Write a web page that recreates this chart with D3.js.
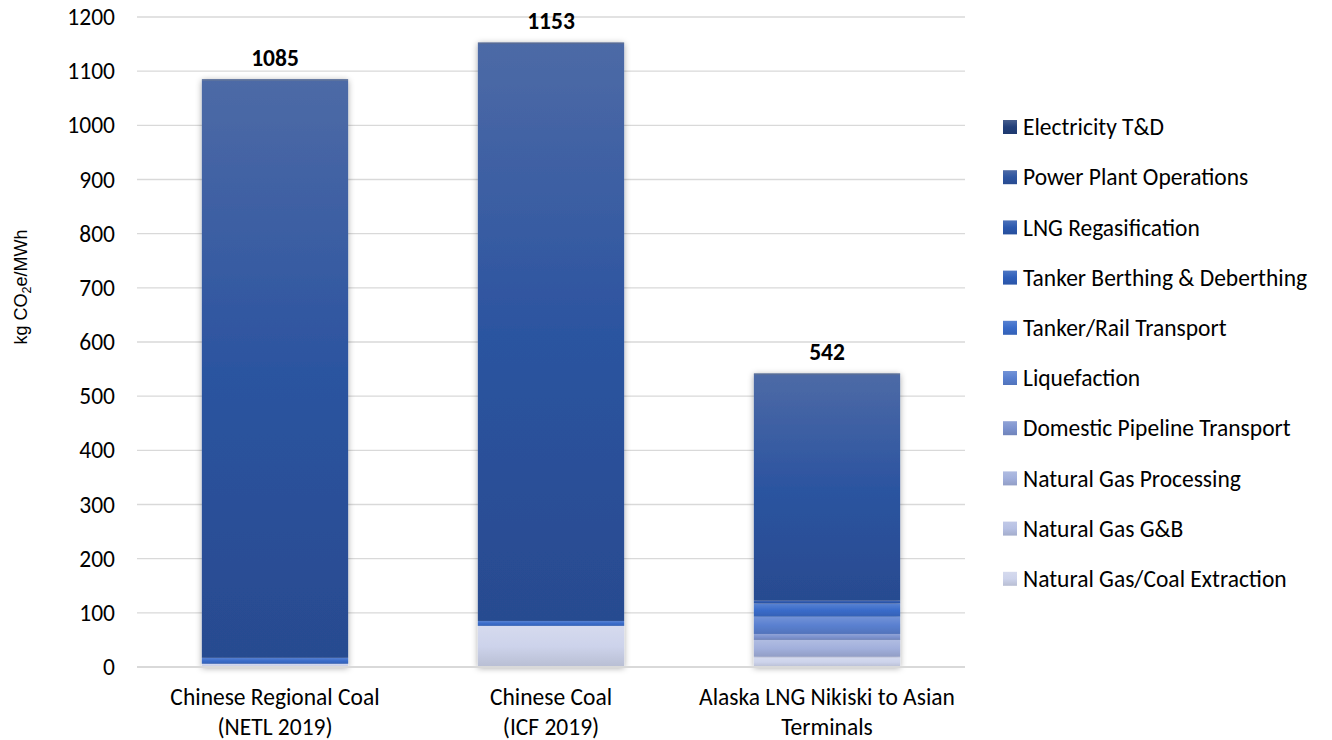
<!DOCTYPE html>
<html>
<head>
<meta charset="utf-8">
<script src="https://cdn.jsdelivr.net/npm/d3@7"></script>
<style>
  html, body { margin: 0; padding: 0; background: #fff; }
  svg { display: block; }
</style>
</head>
<body>
<svg id="chart" width="1332" height="740"></svg>
<script>
// ---------- DATA ----------
const categories = ["Chinese Regional Coal (NETL 2019)", "Chinese Coal (ICF 2019)", "Alaska LNG Nikiski to Asian Terminals"];
const categoryLines = [["Chinese Regional Coal", "(NETL 2019)"], ["Chinese Coal", "(ICF 2019)"], ["Alaska LNG Nikiski to Asian", "Terminals"]];
// stack order: bottom to top
const seriesNames = [
  "Natural Gas/Coal Extraction",
  "Natural Gas G&B",
  "Natural Gas Processing",
  "Domestic Pipeline Transport",
  "Liquefaction",
  "Tanker/Rail Transport",
  "Tanker Berthing & Deberthing",
  "LNG Regasification",
  "Power Plant Operations",
  "Electricity T&D"
];
const extraction      = [6, 76, 18];
const gasGB           = [0, 0, 1];
const gasProcessing   = [0, 0, 31];
const pipeline        = [0, 0, 11];
const liquefaction    = [0, 0, 32];
const tankerRail      = [11, 9, 24];
const berthing        = [0, 0, 0.5];
const regasification  = [0, 0, 5];
const powerPlant      = [1066, 1066, 417.5];
const electricityTD   = [2, 2, 2];
const seriesValues = [extraction, gasGB, gasProcessing, pipeline, liquefaction, tankerRail, berthing, regasification, powerPlant, electricityTD];
const yTicks = [0, 100, 200, 300, 400, 500, 600, 700, 800, 900, 1000, 1100, 1200];
const seriesColors = ["#cdd3eb", "#b6c0e3", "#a2b0dc", "#7d93cf", "#5a80d0", "#3a6cca", "#2f5fba", "#2b58ae", "#2c54a0", "#213f7a"];

// ---------- LAYOUT ----------
const plot = { left: 137, right: 965, top: 17, bottom: 667 };
const FONT = "Carlito, Calibri, Lato, sans-serif";
const FS = 23.5;

const svg = d3.select("#chart");
const defs = svg.append("defs");

// gradients
seriesColors.forEach((c, i) => {
  const base = d3.rgb(c);
  const top = d3.interpolateRgb(c, "#8a94b0")(0.35);
  const bot = base.darker(0.3).formatHex();
  const g = defs.append("linearGradient").attr("id", "grad" + i)
    .attr("x1", 0).attr("y1", 0).attr("x2", 0).attr("y2", 1);
  g.append("stop").attr("offset", "0%").attr("stop-color", i >= 8 ? top : d3.interpolateRgb(c, "#ffffff")(0.15));
  g.append("stop").attr("offset", "50%").attr("stop-color", c);
  g.append("stop").attr("offset", "100%").attr("stop-color", bot);
});

const shadow = defs.append("filter").attr("id", "shadow")
  .attr("x", "-20%").attr("y", "-5%").attr("width", "140%").attr("height", "110%");
shadow.append("feDropShadow").attr("dx", 0).attr("dy", 1).attr("stdDeviation", 3)
  .attr("flood-color", "#000").attr("flood-opacity", 0.35);

const x = d3.scaleBand().domain(categories).range([plot.left, plot.right])
  .paddingInner(0.47).paddingOuter(0.235);
const y = d3.scaleLinear().domain([0, 1200]).range([plot.bottom, plot.top]);

// gridlines
svg.append("g").selectAll("line").data(yTicks.filter(t => t > 0)).join("line")
  .attr("x1", plot.left).attr("x2", plot.right)
  .attr("y1", d => y(d)).attr("y2", d => y(d))
  .attr("stroke", "#d9d9d9").attr("stroke-width", 1.3);

// stacked data
const table = categories.map((c, ci) => {
  const o = { category: c };
  seriesNames.forEach((s, si) => o[s] = seriesValues[si][ci]);
  return o;
});
const stack = d3.stack().keys(seriesNames)(table);

// bars
const barGroups = svg.append("g").selectAll("g.bar").data(categories).join("g")
  .attr("class", "bar").attr("filter", "url(#shadow)");
barGroups.each(function(cat, ci) {
  const g = d3.select(this);
  stack.forEach((layer, si) => {
    const d = layer[ci];
    if (d[1] - d[0] <= 0) return;
    g.append("rect")
      .attr("x", x(cat)).attr("width", x.bandwidth())
      .attr("y", y(d[1])).attr("height", y(d[0]) - y(d[1]))
      .attr("fill", `url(#grad${si})`);
  });
});

// baseline
svg.append("line").attr("x1", plot.left).attr("x2", plot.right)
  .attr("y1", y(0)).attr("y2", y(0)).attr("stroke", "#d9d9d9").attr("stroke-width", 2);

// y axis labels
const yAxis = d3.axisLeft(y).tickValues(yTicks).tickFormat(d3.format("d")).tickSize(0).tickPadding(0);
const yg = svg.append("g").attr("transform", `translate(${plot.left - 22},0)`).call(yAxis);
yg.select(".domain").remove();
yg.selectAll("text").attr("font-family", FONT).attr("font-size", FS).attr("fill", "#000");

// y title
svg.append("text")
  .attr("transform", `translate(27, 287) rotate(-90)`)
  .attr("text-anchor", "middle")
  .attr("font-family", "Liberation Sans, Arial, sans-serif").attr("font-size", 18).attr("fill", "#000")
  .call(t => {
    t.append("tspan").text("kg CO");
    t.append("tspan").text("2").attr("font-size", 12.5).attr("dy", 4);
    t.append("tspan").text("e/MWh").attr("dy", -4);
  });

// x labels
const xl = svg.append("g").selectAll("text").data(categories).join("text")
  .attr("text-anchor", "middle")
  .attr("font-family", FONT).attr("font-size", FS).attr("fill", "#000");
xl.each(function(cat, ci) {
  const t = d3.select(this);
  categoryLines[ci].forEach((line, li) => {
    t.append("tspan").attr("x", x(cat) + x.bandwidth() / 2).attr("y", 705 + li * 30).text(line);
  });
});

// totals
svg.append("g").selectAll("text").data(categories).join("text")
  .attr("x", d => x(d) + x.bandwidth() / 2)
  .attr("y", (d, ci) => y(d3.sum(seriesValues, s => s[ci])) - 13)
  .attr("text-anchor", "middle")
  .attr("font-family", FONT).attr("font-weight", "bold").attr("font-size", FS).attr("fill", "#000")
  .text((d, ci) => d3.format(".0f")(d3.sum(seriesValues, s => s[ci])));

// legend
const legendOrder = seriesNames.map((s, i) => i).reverse();
const lg = svg.append("g").selectAll("g").data(legendOrder).join("g")
  .attr("transform", (d, i) => `translate(1003, ${127 + i * 50.2})`);
lg.append("rect").attr("x", 0).attr("y", -7).attr("width", 14).attr("height", 14)
  .attr("fill", d => `url(#grad${d})`);
lg.append("text").attr("x", 20).attr("y", 0).attr("dy", "0.35em")
  .attr("font-family", FONT).attr("font-size", FS).attr("fill", "#000")
  .text(d => seriesNames[d]);
</script>
</body>
</html>
